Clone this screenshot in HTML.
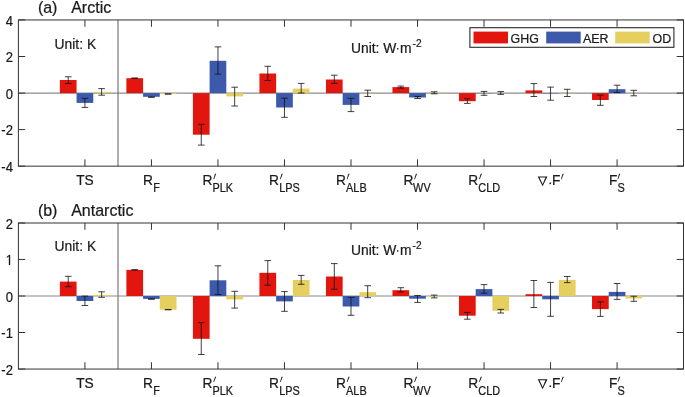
<!DOCTYPE html><html><head><meta charset="utf-8"><title>Arctic / Antarctic decomposition</title>
<style>html,body{margin:0;padding:0;background:#fff}svg{display:block;will-change:transform}text{font-family:"Liberation Sans",sans-serif;fill:#1a1a1a;stroke:#1a1a1a;stroke-width:0.22px}</style></head><body>
<svg width="685" height="397" viewBox="0 0 685 397">
<rect x="0" y="0" width="685" height="397" fill="#ffffff"/>
<line x1="18.4" y1="93.1" x2="683.5" y2="93.1" stroke="#8c8c8c" stroke-width="1.15"/>
<rect x="59.87" y="80.00" width="16.70" height="13.10" fill="#e2160e"/>
<rect x="76.57" y="93.10" width="16.70" height="9.80" fill="#3d59ab"/>
<rect x="93.27" y="91.90" width="16.70" height="1.20" fill="#e5cf5f"/>
<rect x="126.39" y="78.20" width="16.70" height="14.90" fill="#e2160e"/>
<rect x="143.09" y="93.10" width="16.70" height="3.70" fill="#3d59ab"/>
<rect x="159.79" y="93.10" width="16.70" height="0.80" fill="#e5cf5f"/>
<rect x="192.91" y="93.10" width="16.70" height="41.60" fill="#e2160e"/>
<rect x="209.61" y="60.80" width="16.70" height="32.30" fill="#3d59ab"/>
<rect x="226.31" y="93.10" width="16.70" height="3.30" fill="#e5cf5f"/>
<rect x="259.43" y="73.50" width="16.70" height="19.60" fill="#e2160e"/>
<rect x="276.13" y="93.10" width="16.70" height="14.40" fill="#3d59ab"/>
<rect x="292.83" y="88.60" width="16.70" height="4.50" fill="#e5cf5f"/>
<rect x="325.95" y="79.50" width="16.70" height="13.60" fill="#e2160e"/>
<rect x="342.65" y="93.10" width="16.70" height="11.80" fill="#3d59ab"/>
<rect x="359.35" y="92.80" width="16.70" height="0.30" fill="#e5cf5f"/>
<rect x="392.47" y="87.10" width="16.70" height="6.00" fill="#e2160e"/>
<rect x="409.17" y="93.10" width="16.70" height="4.40" fill="#3d59ab"/>
<rect x="425.87" y="92.70" width="16.70" height="0.40" fill="#e5cf5f"/>
<rect x="458.99" y="93.10" width="16.70" height="8.10" fill="#e2160e"/>
<rect x="475.69" y="93.10" width="16.70" height="0.20" fill="#3d59ab"/>
<rect x="492.39" y="93.00" width="16.70" height="0.10" fill="#e5cf5f"/>
<rect x="525.51" y="90.40" width="16.70" height="2.70" fill="#e2160e"/>
<rect x="542.21" y="93.10" width="16.70" height="0.40" fill="#3d59ab"/>
<rect x="558.91" y="92.90" width="16.70" height="0.20" fill="#e5cf5f"/>
<rect x="592.03" y="93.10" width="16.70" height="6.90" fill="#e2160e"/>
<rect x="608.73" y="89.20" width="16.70" height="3.90" fill="#3d59ab"/>
<rect x="625.43" y="93.00" width="16.70" height="0.10" fill="#e5cf5f"/>
<line x1="118.0" y1="19.95" x2="118.0" y2="166.15" stroke="#7c7c7c" stroke-width="1.25"/>
<path d="M68.22 76.80 V83.50 M64.92 76.80 H71.52 M64.92 83.50 H71.52" stroke="#111111" stroke-width="0.8" fill="none"/>
<path d="M84.92 98.40 V107.40 M81.62 98.40 H88.22 M81.62 107.40 H88.22" stroke="#111111" stroke-width="0.8" fill="none"/>
<path d="M101.62 88.60 V95.20 M98.32 88.60 H104.92 M98.32 95.20 H104.92" stroke="#111111" stroke-width="0.8" fill="none"/>
<path d="M134.74 78.00 V78.40 M131.44 78.00 H138.04 M131.44 78.40 H138.04" stroke="#111111" stroke-width="0.8" fill="none"/>
<path d="M151.44 96.90 V97.30 M148.14 96.90 H154.74 M148.14 97.30 H154.74" stroke="#111111" stroke-width="0.8" fill="none"/>
<path d="M168.14 93.80 V94.10 M164.84 93.80 H171.44 M164.84 94.10 H171.44" stroke="#111111" stroke-width="0.8" fill="none"/>
<path d="M201.26 124.30 V145.10 M197.96 124.30 H204.56 M197.96 145.10 H204.56" stroke="#111111" stroke-width="0.8" fill="none"/>
<path d="M217.96 46.90 V74.10 M214.66 46.90 H221.26 M214.66 74.10 H221.26" stroke="#111111" stroke-width="0.8" fill="none"/>
<path d="M234.66 87.20 V106.00 M231.36 87.20 H237.96 M231.36 106.00 H237.96" stroke="#111111" stroke-width="0.8" fill="none"/>
<path d="M267.78 66.30 V80.50 M264.48 66.30 H271.08 M264.48 80.50 H271.08" stroke="#111111" stroke-width="0.8" fill="none"/>
<path d="M284.48 98.20 V117.30 M281.18 98.20 H287.78 M281.18 117.30 H287.78" stroke="#111111" stroke-width="0.8" fill="none"/>
<path d="M301.18 83.40 V93.00 M297.88 83.40 H304.48 M297.88 93.00 H304.48" stroke="#111111" stroke-width="0.8" fill="none"/>
<path d="M334.30 75.20 V83.40 M331.00 75.20 H337.60 M331.00 83.40 H337.60" stroke="#111111" stroke-width="0.8" fill="none"/>
<path d="M351.00 98.30 V111.60 M347.70 98.30 H354.30 M347.70 111.60 H354.30" stroke="#111111" stroke-width="0.8" fill="none"/>
<path d="M367.70 90.20 V96.50 M364.40 90.20 H371.00 M364.40 96.50 H371.00" stroke="#111111" stroke-width="0.8" fill="none"/>
<path d="M400.82 86.10 V88.10 M397.52 86.10 H404.12 M397.52 88.10 H404.12" stroke="#111111" stroke-width="0.8" fill="none"/>
<path d="M417.52 96.50 V98.50 M414.22 96.50 H420.82 M414.22 98.50 H420.82" stroke="#111111" stroke-width="0.8" fill="none"/>
<path d="M434.22 91.80 V93.80 M430.92 91.80 H437.52 M430.92 93.80 H437.52" stroke="#111111" stroke-width="0.8" fill="none"/>
<path d="M467.34 98.70 V103.40 M464.04 98.70 H470.64 M464.04 103.40 H470.64" stroke="#111111" stroke-width="0.8" fill="none"/>
<path d="M484.04 91.40 V95.30 M480.74 91.40 H487.34 M480.74 95.30 H487.34" stroke="#111111" stroke-width="0.8" fill="none"/>
<path d="M500.74 91.60 V94.40 M497.44 91.60 H504.04 M497.44 94.40 H504.04" stroke="#111111" stroke-width="0.8" fill="none"/>
<path d="M533.86 83.60 V96.50 M530.56 83.60 H537.16 M530.56 96.50 H537.16" stroke="#111111" stroke-width="0.8" fill="none"/>
<path d="M550.56 87.10 V100.20 M547.26 87.10 H553.86 M547.26 100.20 H553.86" stroke="#111111" stroke-width="0.8" fill="none"/>
<path d="M567.26 89.30 V96.50 M563.96 89.30 H570.56 M563.96 96.50 H570.56" stroke="#111111" stroke-width="0.8" fill="none"/>
<path d="M600.38 95.10 V105.30 M597.08 95.10 H603.68 M597.08 105.30 H603.68" stroke="#111111" stroke-width="0.8" fill="none"/>
<path d="M617.08 85.20 V92.60 M613.78 85.20 H620.38 M613.78 92.60 H620.38" stroke="#111111" stroke-width="0.8" fill="none"/>
<path d="M633.78 90.30 V95.80 M630.48 90.30 H637.08 M630.48 95.80 H637.08" stroke="#111111" stroke-width="0.8" fill="none"/>
<rect x="18.4" y="19.95" width="665.10" height="146.20" fill="none" stroke="#333333" stroke-width="1"/>
<path d="M84.92 166.15 v-6.8 M84.92 19.95 v6.8 M151.44 166.15 v-6.8 M151.44 19.95 v6.8 M217.96 166.15 v-6.8 M217.96 19.95 v6.8 M284.48 166.15 v-6.8 M284.48 19.95 v6.8 M351.00 166.15 v-6.8 M351.00 19.95 v6.8 M417.52 166.15 v-6.8 M417.52 19.95 v6.8 M484.04 166.15 v-6.8 M484.04 19.95 v6.8 M550.56 166.15 v-6.8 M550.56 19.95 v6.8 M617.08 166.15 v-6.8 M617.08 19.95 v6.8 M18.4 19.95 h6.8 M683.5 19.95 h-6.8 M18.4 56.5 h6.8 M683.5 56.5 h-6.8 M18.4 93.1 h6.8 M683.5 93.1 h-6.8 M18.4 129.6 h6.8 M683.5 129.6 h-6.8 M18.4 166.15 h6.8 M683.5 166.15 h-6.8" stroke="#333333" stroke-width="1" fill="none"/>
<text transform="translate(12.90 25.55) scale(1 1.12)" font-size="13.0" text-anchor="end">4</text>
<text transform="translate(12.90 62.10) scale(1 1.12)" font-size="13.0" text-anchor="end">2</text>
<text transform="translate(12.90 98.70) scale(1 1.12)" font-size="13.0" text-anchor="end">0</text>
<text transform="translate(12.90 135.20) scale(1 1.12)" font-size="13.0" text-anchor="end">-2</text>
<text transform="translate(12.90 171.75) scale(1 1.12)" font-size="13.0" text-anchor="end">-4</text>
<text transform="translate(37.90 12.70) scale(1 1.02)" font-size="16.0">(a)</text>
<text transform="translate(71.20 12.70) scale(1 1.02)" font-size="16.0">Arctic</text>
<text transform="translate(54.60 48.50) scale(1 1.12)" font-size="13.85">Unit: K</text>
<text transform="translate(351.00 52.90) scale(1 1.12)" font-size="13.85">Unit: W</text>
<rect x="397.0" y="48.00" width="1.4" height="1.4" fill="#1c1c1c"/>
<text transform="translate(399.90 52.90) scale(1 1.12)" font-size="13.85">m</text>
<text transform="translate(412.60 46.80) scale(1 1.06)" font-size="10.1">-2</text>
<g transform="translate(0.6,0.6)">
<text transform="translate(84.32 184.75) scale(1 1.12)" font-size="13.75" text-anchor="middle">TS</text>
<text transform="translate(142.30 184.75) scale(1 1.12)" font-size="13.75">R</text>
<text transform="translate(152.60 191.20) scale(1 1.12)" font-size="10.9">F</text>
<text transform="translate(201.90 184.75) scale(1 1.12)" font-size="13.75">R</text>
<path d="M214.40 173.25 L215.60 173.25 L213.45 178.55 L212.70 178.55 Z" fill="#1c1c1c"/>
<text transform="translate(211.80 191.20) scale(1 1.12)" font-size="10.9">PLK</text>
<text transform="translate(268.50 184.75) scale(1 1.12)" font-size="13.75">R</text>
<path d="M281.00 173.25 L282.20 173.25 L280.05 178.55 L279.30 178.55 Z" fill="#1c1c1c"/>
<text transform="translate(278.70 191.20) scale(1 1.12)" font-size="10.9">LPS</text>
<text transform="translate(335.30 184.75) scale(1 1.12)" font-size="13.75">R</text>
<path d="M347.80 173.25 L349.00 173.25 L346.85 178.55 L346.10 178.55 Z" fill="#1c1c1c"/>
<text transform="translate(345.50 191.20) scale(1 1.12)" font-size="10.9">ALB</text>
<text transform="translate(402.80 184.75) scale(1 1.12)" font-size="13.75">R</text>
<path d="M415.30 173.25 L416.50 173.25 L414.35 178.55 L413.60 178.55 Z" fill="#1c1c1c"/>
<text transform="translate(412.50 191.20) scale(1 1.12)" font-size="10.9">WV</text>
<text transform="translate(467.60 184.75) scale(1 1.12)" font-size="13.75">R</text>
<path d="M480.10 173.25 L481.30 173.25 L479.15 178.55 L478.40 178.55 Z" fill="#1c1c1c"/>
<text transform="translate(477.70 191.20) scale(1 1.12)" font-size="10.9">CLD</text>
<path d="M537.1 175.85 L546.9 175.85 L542.0 185.65 Z M538.9 176.80 L542.1 183.45 L544.8 176.80 Z" fill="#1c1c1c" fill-rule="evenodd"/>
<rect x="548.9" y="181.95" width="1.6" height="1.6" fill="#1c1c1c"/>
<text transform="translate(551.50 184.75) scale(1 1.12)" font-size="13.75">F</text>
<path d="M562.00 173.25 L563.20 173.25 L561.05 178.55 L560.30 178.55 Z" fill="#1c1c1c"/>
<text transform="translate(608.40 184.75) scale(1 1.12)" font-size="13.75">F</text>
<path d="M618.50 173.25 L619.70 173.25 L617.55 178.55 L616.80 178.55 Z" fill="#1c1c1c"/>
<text transform="translate(617.00 191.60) scale(1 1.12)" font-size="10.9">S</text>
</g>
<line x1="18.4" y1="296.0" x2="683.5" y2="296.0" stroke="#8c8c8c" stroke-width="1.15"/>
<rect x="59.87" y="281.60" width="16.70" height="14.40" fill="#e2160e"/>
<rect x="76.57" y="296.00" width="16.70" height="5.00" fill="#3d59ab"/>
<rect x="93.27" y="294.90" width="16.70" height="1.10" fill="#e5cf5f"/>
<rect x="126.39" y="269.90" width="16.70" height="26.10" fill="#e2160e"/>
<rect x="143.09" y="296.00" width="16.70" height="2.90" fill="#3d59ab"/>
<rect x="159.79" y="296.00" width="16.70" height="13.60" fill="#e5cf5f"/>
<rect x="192.91" y="296.00" width="16.70" height="42.80" fill="#e2160e"/>
<rect x="209.61" y="280.30" width="16.70" height="15.70" fill="#3d59ab"/>
<rect x="226.31" y="296.00" width="16.70" height="3.40" fill="#e5cf5f"/>
<rect x="259.43" y="272.80" width="16.70" height="23.20" fill="#e2160e"/>
<rect x="276.13" y="296.00" width="16.70" height="5.40" fill="#3d59ab"/>
<rect x="292.83" y="280.00" width="16.70" height="16.00" fill="#e5cf5f"/>
<rect x="325.95" y="276.50" width="16.70" height="19.50" fill="#e2160e"/>
<rect x="342.65" y="296.00" width="16.70" height="10.50" fill="#3d59ab"/>
<rect x="359.35" y="292.20" width="16.70" height="3.80" fill="#e5cf5f"/>
<rect x="392.47" y="290.20" width="16.70" height="5.80" fill="#e2160e"/>
<rect x="409.17" y="296.00" width="16.70" height="2.70" fill="#3d59ab"/>
<rect x="425.87" y="296.00" width="16.70" height="0.50" fill="#e5cf5f"/>
<rect x="458.99" y="296.00" width="16.70" height="19.70" fill="#e2160e"/>
<rect x="475.69" y="289.10" width="16.70" height="6.90" fill="#3d59ab"/>
<rect x="492.39" y="296.00" width="16.70" height="14.80" fill="#e5cf5f"/>
<rect x="525.51" y="294.20" width="16.70" height="1.80" fill="#e2160e"/>
<rect x="542.21" y="296.00" width="16.70" height="3.30" fill="#3d59ab"/>
<rect x="558.91" y="279.90" width="16.70" height="16.10" fill="#e5cf5f"/>
<rect x="592.03" y="296.00" width="16.70" height="13.10" fill="#e2160e"/>
<rect x="608.73" y="291.90" width="16.70" height="4.10" fill="#3d59ab"/>
<rect x="625.43" y="296.00" width="16.70" height="2.50" fill="#e5cf5f"/>
<line x1="118.0" y1="223.0" x2="118.0" y2="369.05" stroke="#7c7c7c" stroke-width="1.25"/>
<path d="M68.22 276.30 V286.70 M64.92 276.30 H71.52 M64.92 286.70 H71.52" stroke="#111111" stroke-width="0.8" fill="none"/>
<path d="M84.92 296.10 V305.50 M81.62 296.10 H88.22 M81.62 305.50 H88.22" stroke="#111111" stroke-width="0.8" fill="none"/>
<path d="M101.62 291.80 V297.30 M98.32 291.80 H104.92 M98.32 297.30 H104.92" stroke="#111111" stroke-width="0.8" fill="none"/>
<path d="M134.74 269.70 V270.10 M131.44 269.70 H138.04 M131.44 270.10 H138.04" stroke="#111111" stroke-width="0.8" fill="none"/>
<path d="M151.44 298.90 V299.20 M148.14 298.90 H154.74 M148.14 299.20 H154.74" stroke="#111111" stroke-width="0.8" fill="none"/>
<path d="M168.14 309.50 V309.80 M164.84 309.50 H171.44 M164.84 309.80 H171.44" stroke="#111111" stroke-width="0.8" fill="none"/>
<path d="M201.26 322.60 V354.50 M197.96 322.60 H204.56 M197.96 354.50 H204.56" stroke="#111111" stroke-width="0.8" fill="none"/>
<path d="M217.96 265.80 V294.50 M214.66 265.80 H221.26 M214.66 294.50 H221.26" stroke="#111111" stroke-width="0.8" fill="none"/>
<path d="M234.66 291.30 V308.10 M231.36 291.30 H237.96 M231.36 308.10 H237.96" stroke="#111111" stroke-width="0.8" fill="none"/>
<path d="M267.78 260.60 V285.20 M264.48 260.60 H271.08 M264.48 285.20 H271.08" stroke="#111111" stroke-width="0.8" fill="none"/>
<path d="M284.48 291.60 V311.30 M281.18 291.60 H287.78 M281.18 311.30 H287.78" stroke="#111111" stroke-width="0.8" fill="none"/>
<path d="M301.18 275.40 V284.30 M297.88 275.40 H304.48 M297.88 284.30 H304.48" stroke="#111111" stroke-width="0.8" fill="none"/>
<path d="M334.30 263.60 V289.30 M331.00 263.60 H337.60 M331.00 289.30 H337.60" stroke="#111111" stroke-width="0.8" fill="none"/>
<path d="M351.00 297.50 V315.30 M347.70 297.50 H354.30 M347.70 315.30 H354.30" stroke="#111111" stroke-width="0.8" fill="none"/>
<path d="M367.70 285.70 V297.70 M364.40 285.70 H371.00 M364.40 297.70 H371.00" stroke="#111111" stroke-width="0.8" fill="none"/>
<path d="M400.82 287.70 V292.00 M397.52 287.70 H404.12 M397.52 292.00 H404.12" stroke="#111111" stroke-width="0.8" fill="none"/>
<path d="M417.52 295.50 V302.40 M414.22 295.50 H420.82 M414.22 302.40 H420.82" stroke="#111111" stroke-width="0.8" fill="none"/>
<path d="M434.22 295.10 V297.90 M430.92 295.10 H437.52 M430.92 297.90 H437.52" stroke="#111111" stroke-width="0.8" fill="none"/>
<path d="M467.34 312.40 V319.20 M464.04 312.40 H470.64 M464.04 319.20 H470.64" stroke="#111111" stroke-width="0.8" fill="none"/>
<path d="M484.04 284.60 V293.20 M480.74 284.60 H487.34 M480.74 293.20 H487.34" stroke="#111111" stroke-width="0.8" fill="none"/>
<path d="M500.74 309.40 V313.00 M497.44 309.40 H504.04 M497.44 313.00 H504.04" stroke="#111111" stroke-width="0.8" fill="none"/>
<path d="M533.86 280.50 V307.50 M530.56 280.50 H537.16 M530.56 307.50 H537.16" stroke="#111111" stroke-width="0.8" fill="none"/>
<path d="M550.56 282.40 V316.30 M547.26 282.40 H553.86 M547.26 316.30 H553.86" stroke="#111111" stroke-width="0.8" fill="none"/>
<path d="M567.26 276.50 V282.60 M563.96 276.50 H570.56 M563.96 282.60 H570.56" stroke="#111111" stroke-width="0.8" fill="none"/>
<path d="M600.38 301.90 V316.40 M597.08 301.90 H603.68 M597.08 316.40 H603.68" stroke="#111111" stroke-width="0.8" fill="none"/>
<path d="M617.08 283.50 V299.40 M613.78 283.50 H620.38 M613.78 299.40 H620.38" stroke="#111111" stroke-width="0.8" fill="none"/>
<path d="M633.78 296.20 V301.30 M630.48 296.20 H637.08 M630.48 301.30 H637.08" stroke="#111111" stroke-width="0.8" fill="none"/>
<rect x="18.4" y="223.0" width="665.10" height="146.05" fill="none" stroke="#333333" stroke-width="1"/>
<path d="M84.92 369.05 v-6.8 M84.92 223.0 v6.8 M151.44 369.05 v-6.8 M151.44 223.0 v6.8 M217.96 369.05 v-6.8 M217.96 223.0 v6.8 M284.48 369.05 v-6.8 M284.48 223.0 v6.8 M351.00 369.05 v-6.8 M351.00 223.0 v6.8 M417.52 369.05 v-6.8 M417.52 223.0 v6.8 M484.04 369.05 v-6.8 M484.04 223.0 v6.8 M550.56 369.05 v-6.8 M550.56 223.0 v6.8 M617.08 369.05 v-6.8 M617.08 223.0 v6.8 M18.4 223.0 h6.8 M683.5 223.0 h-6.8 M18.4 259.45 h6.8 M683.5 259.45 h-6.8 M18.4 296.0 h6.8 M683.5 296.0 h-6.8 M18.4 332.5 h6.8 M683.5 332.5 h-6.8 M18.4 369.05 h6.8 M683.5 369.05 h-6.8" stroke="#333333" stroke-width="1" fill="none"/>
<text transform="translate(12.90 228.60) scale(1 1.12)" font-size="13.0" text-anchor="end">2</text>
<path transform="translate(5.67 265.05) scale(0.006348 -0.007109)" d="M515 0V1237L197 1010V1180L530 1409H696V0Z" fill="#1a1a1a" stroke="#1a1a1a" stroke-width="30"/>
<text transform="translate(12.90 301.60) scale(1 1.12)" font-size="13.0" text-anchor="end">0</text>
<text transform="translate(12.90 338.10) scale(1 1.12)" font-size="13.0" text-anchor="end">-1</text>
<text transform="translate(12.90 374.65) scale(1 1.12)" font-size="13.0" text-anchor="end">-2</text>
<text transform="translate(37.90 215.60) scale(1 1.02)" font-size="16.0">(b)</text>
<text transform="translate(71.20 215.60) scale(1 1.02)" font-size="16.0">Antarctic</text>
<text transform="translate(54.60 251.00) scale(1 1.12)" font-size="13.85">Unit: K</text>
<text transform="translate(351.00 255.15) scale(1 1.12)" font-size="13.85">Unit: W</text>
<rect x="397.0" y="250.25" width="1.4" height="1.4" fill="#1c1c1c"/>
<text transform="translate(399.90 255.15) scale(1 1.12)" font-size="13.85">m</text>
<text transform="translate(412.60 249.05) scale(1 1.06)" font-size="10.1">-2</text>
<g transform="translate(0.6,0.6)">
<text transform="translate(84.32 387.65) scale(1 1.12)" font-size="13.75" text-anchor="middle">TS</text>
<text transform="translate(142.30 387.65) scale(1 1.12)" font-size="13.75">R</text>
<text transform="translate(152.60 394.10) scale(1 1.12)" font-size="10.9">F</text>
<text transform="translate(201.90 387.65) scale(1 1.12)" font-size="13.75">R</text>
<path d="M214.40 376.15 L215.60 376.15 L213.45 381.45 L212.70 381.45 Z" fill="#1c1c1c"/>
<text transform="translate(211.80 394.10) scale(1 1.12)" font-size="10.9">PLK</text>
<text transform="translate(268.50 387.65) scale(1 1.12)" font-size="13.75">R</text>
<path d="M281.00 376.15 L282.20 376.15 L280.05 381.45 L279.30 381.45 Z" fill="#1c1c1c"/>
<text transform="translate(278.70 394.10) scale(1 1.12)" font-size="10.9">LPS</text>
<text transform="translate(335.30 387.65) scale(1 1.12)" font-size="13.75">R</text>
<path d="M347.80 376.15 L349.00 376.15 L346.85 381.45 L346.10 381.45 Z" fill="#1c1c1c"/>
<text transform="translate(345.50 394.10) scale(1 1.12)" font-size="10.9">ALB</text>
<text transform="translate(402.80 387.65) scale(1 1.12)" font-size="13.75">R</text>
<path d="M415.30 376.15 L416.50 376.15 L414.35 381.45 L413.60 381.45 Z" fill="#1c1c1c"/>
<text transform="translate(412.50 394.10) scale(1 1.12)" font-size="10.9">WV</text>
<text transform="translate(467.60 387.65) scale(1 1.12)" font-size="13.75">R</text>
<path d="M480.10 376.15 L481.30 376.15 L479.15 381.45 L478.40 381.45 Z" fill="#1c1c1c"/>
<text transform="translate(477.70 394.10) scale(1 1.12)" font-size="10.9">CLD</text>
<path d="M537.1 378.75 L546.9 378.75 L542.0 388.55 Z M538.9 379.70 L542.1 386.35 L544.8 379.70 Z" fill="#1c1c1c" fill-rule="evenodd"/>
<rect x="548.9" y="384.85" width="1.6" height="1.6" fill="#1c1c1c"/>
<text transform="translate(551.50 387.65) scale(1 1.12)" font-size="13.75">F</text>
<path d="M562.00 376.15 L563.20 376.15 L561.05 381.45 L560.30 381.45 Z" fill="#1c1c1c"/>
<text transform="translate(608.40 387.65) scale(1 1.12)" font-size="13.75">F</text>
<path d="M618.50 376.15 L619.70 376.15 L617.55 381.45 L616.80 381.45 Z" fill="#1c1c1c"/>
<text transform="translate(617.00 394.50) scale(1 1.12)" font-size="10.9">S</text>
</g>
<rect x="469.9" y="27.7" width="204.0" height="19.6" fill="#ffffff" stroke="#2a2a2a" stroke-width="1.1"/>
<rect x="473.5" y="31.6" width="34.5" height="11.8" fill="#e2160e"/>
<rect x="546.2" y="31.6" width="34.5" height="11.8" fill="#3d59ab"/>
<rect x="615.2" y="31.6" width="34.5" height="11.8" fill="#e5cf5f"/>
<text transform="translate(510.60 42.50) scale(1 1.02)" font-size="12.4">GHG</text>
<text transform="translate(582.90 42.50) scale(1 1.02)" font-size="12.4">AER</text>
<text transform="translate(652.60 42.50) scale(1 1.02)" font-size="12.4">OD</text>
</svg></body></html>
